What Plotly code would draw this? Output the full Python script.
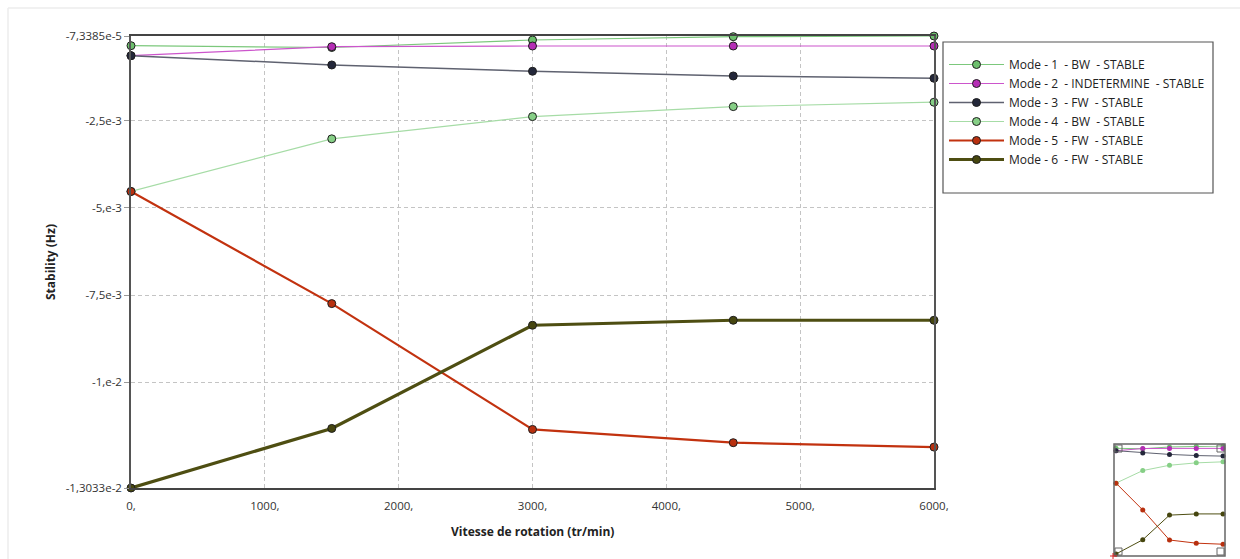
import plotly.graph_objects as go

W, H = 1240, 559

# Rotation speed (tr/min)
speeds = [0, 1500, 3000, 4500, 6000]

# Stability (Hz) per mode
mode1 = [-3.51e-4, -4.03e-4, -1.88e-4, -9.3e-5, -7.3385e-5]
mode2 = [-6.37e-4, -3.80e-4, -3.60e-4, -3.60e-4, -3.60e-4]
mode3 = [-6.37e-4, -9.04e-4, -1.084e-3, -1.219e-3, -1.285e-3]
mode4 = [-4.531e-3, -3.022e-3, -2.384e-3, -2.098e-3, -1.972e-3]
mode5 = [-4.531e-3, -7.746e-3, -1.1353e-2, -1.1734e-2, -1.186e-2]
mode6 = [-1.3033e-2, -1.1325e-2, -8.367e-3, -8.224e-3, -8.224e-3]

names = [
    "Mode - 1  - BW  - STABLE",
    "Mode - 2  - INDETERMINE  - STABLE",
    "Mode - 3  - FW  - STABLE",
    "Mode - 4  - BW  - STABLE",
    "Mode - 5  - FW  - STABLE",
    "Mode - 6  - FW  - STABLE",
]

x_tickvals = [0, 1000, 2000, 3000, 4000, 5000, 6000]
x_ticktext = ["0,", "1000,", "2000,", "3000,", "4000,", "5000,", "6000,"]
y_tickvals = [-7.3385e-5, -2.5e-3, -5e-3, -7.5e-3, -1e-2, -1.3033e-2]
y_ticktext = ["-7,3385e-5", "-2,5e-3", "-5,e-3", "-7,5e-3", "-1,e-2", "-1,3033e-2"]

series = [mode1, mode2, mode3, mode4, mode5, mode6]
line_colors = ["#7cc87c", "#cc55cc", "#5f6270", "#a6dca6", "#c2320f", "#4e4e12"]
marker_colors = ["#6cbf6c", "#b52db5", "#23273a", "#86cf86", "#b8300f", "#46460f"]
line_widths = [1.2, 1.2, 1.5, 1.2, 2.2, 3.2]

# Pixel geometry of the main plot area and the overview box
PX_L, PX_R, PX_T, PX_B = 131, 934, 36, 488
OV_L, OV_R, OV_T, OV_B = 1116, 1223, 446, 554


def px_x(p):
    return min(max(p / W, 0.0), 1.0)


def px_y(p):
    return min(max((H - p) / H, 0.0), 1.0)


fig = go.Figure()

for name, ys, lc, mc, lw in zip(names, series, line_colors, marker_colors, line_widths):
    fig.add_trace(go.Scatter(
        x=speeds, y=ys, mode="lines+markers",
        name=name.replace(" ", "\u00a0"),
        line=dict(color=lc, width=lw),
        marker=dict(size=8, color=mc, line=dict(color="#1e1e1e", width=1)),
        cliponaxis=False,
        xaxis="x", yaxis="y",
    ))

# Overview thumbnail
for ys, lc, mc in zip(series, line_colors, marker_colors):
    fig.add_trace(go.Scatter(
        x=speeds, y=ys, mode="lines+markers", showlegend=False,
        line=dict(color=lc, width=1),
        marker=dict(size=5, color=mc, symbol="circle"),
        cliponaxis=False, hoverinfo="skip",
        xaxis="x2", yaxis="y2",
    ))

tick_font = dict(family="Open Sans, Noto Sans, sans-serif", size=11.5, color="#333333")
grid = dict(showgrid=True, gridcolor="#c4c4c4", griddash="4px,3px", gridwidth=1)

fig.update_layout(
    width=W, height=H,
    margin=dict(l=0, r=0, t=0, b=0, autoexpand=False),
    paper_bgcolor="white", plot_bgcolor="white",
    showlegend=True,
    xaxis=dict(
        domain=[px_x(PX_L), px_x(PX_R)], range=[0, 6000], automargin=False,
        tickmode="array", tickvals=x_tickvals, ticktext=x_ticktext,
        tickfont=tick_font, ticks="", ticklabelstandoff=6,
        showline=True, linecolor="#444444", linewidth=1.5, mirror=True,
        zeroline=False, **grid,
    ),
    yaxis=dict(
        domain=[px_y(PX_B), px_y(PX_T)], range=[-1.3033e-2, -7.3385e-5], automargin=False,
        tickmode="array", tickvals=y_tickvals, ticktext=y_ticktext,
        tickfont=tick_font, ticks="outside", ticklen=5, tickcolor="#999999",
        showline=True, linecolor="#555555", linewidth=1.5, mirror=True,
        zeroline=False, **grid,
    ),
    xaxis2=dict(
        domain=[px_x(OV_L), px_x(OV_R)], range=[0, 6000], anchor="y2", automargin=False,
        showticklabels=False, showgrid=False, zeroline=False, showline=False,
    ),
    yaxis2=dict(
        domain=[px_y(OV_B), px_y(OV_T)], range=[-1.3033e-2, -7.3385e-5], anchor="x2",
        automargin=False,
        showticklabels=False, showgrid=False, zeroline=False, showline=False,
    ),
    legend=dict(
        x=px_x(944), y=px_y(50), xanchor="left", yanchor="top",
        bgcolor="rgba(0,0,0,0)", borderwidth=0, itemwidth=55,
        font=dict(family="Open Sans, Noto Sans, sans-serif", size=12, color="#222222"),
        tracegroupgap=0,
    ),
)

shapes = []
# legend frame
shapes.append(dict(type="rect", xref="paper", yref="paper",
                   x0=px_x(943), x1=px_x(1213), y0=px_y(193), y1=px_y(42),
                   line=dict(color="#555555", width=1.2), fillcolor="rgba(0,0,0,0)"))
# outer panel border
shapes.append(dict(type="line", xref="paper", yref="paper",
                   x0=px_x(8), x1=1.0, y0=px_y(8), y1=px_y(8),
                   line=dict(color="#ececec", width=1.5)))
shapes.append(dict(type="line", xref="paper", yref="paper",
                   x0=px_x(8), x1=px_x(8), y0=0, y1=px_y(8),
                   line=dict(color="#ececec", width=1.5)))
# overview frame
shapes.append(dict(type="rect", xref="paper", yref="paper",
                   x0=px_x(1114), x1=px_x(1225), y0=px_y(556), y1=px_y(444),
                   line=dict(color="#666666", width=1.5), fillcolor="rgba(0,0,0,0)"))
# corner handles inside the overview
for cx, cy, dx, dy in [(1115, 445, 1, 1), (1224, 445, -1, 1), (1115, 555, 1, -1), (1224, 555, -1, -1)]:
    shapes.append(dict(type="rect", xref="paper", yref="paper",
                       x0=px_x(cx), x1=px_x(cx + 7 * dx), y0=px_y(cy), y1=px_y(cy + 7 * dy),
                       line=dict(color="#666666", width=1), fillcolor="rgba(0,0,0,0)"))
# small red cross at the overview corner
shapes.append(dict(type="line", xref="paper", yref="paper",
                   x0=px_x(1110), x1=px_x(1117), y0=px_y(556), y1=px_y(556),
                   line=dict(color="#e02020", width=1)))
shapes.append(dict(type="line", xref="paper", yref="paper",
                   x0=px_x(1113), x1=px_x(1113), y0=px_y(559), y1=px_y(553),
                   line=dict(color="#e02020", width=1)))
fig.update_layout(shapes=shapes)

title_font = dict(family="Open Sans, Noto Sans, sans-serif", size=12, color="#222222")
fig.add_annotation(text="<b>Vitesse de rotation (tr/min)</b>", xref="paper", yref="paper",
                   x=px_x((PX_L + PX_R) / 2), y=px_y(531), xanchor="center", yanchor="middle",
                   showarrow=False, font=title_font)
fig.add_annotation(text="<b>Stability (Hz)</b>", xref="paper", yref="paper",
                   x=px_x(50), y=px_y((PX_T + PX_B) / 2), xanchor="center", yanchor="middle",
                   textangle=-90, showarrow=False, font=title_font)

fig.write_html("out.html")
